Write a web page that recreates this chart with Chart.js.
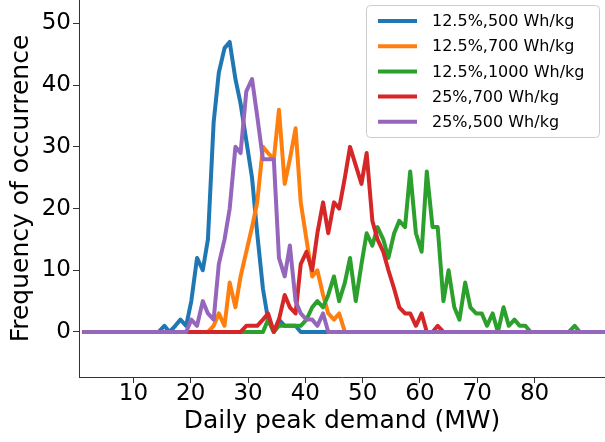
<!DOCTYPE html>
<html>
<head>
<meta charset="utf-8">
<script src="https://cdn.jsdelivr.net/npm/chart.js@4.4.0/dist/chart.umd.min.js"></script>
<style>
  html, body { margin: 0; padding: 0; background: #fff; }
  #wrap { width: 605px; height: 442px; position: relative; }
</style>
</head>
<body>
<div id="wrap"><canvas id="peakChart"></canvas></div>
<script>
// bin centres of the daily peak demand histogram (MW)
const demandBins = [
  1.05, 2.0, 3.0, 3.9, 4.9, 5.8, 6.8, 7.7, 8.7, 9.6,
  10.6, 11.6, 12.5, 13.5, 14.4, 15.4, 16.3, 17.3, 18.2, 19.2,
  20.1, 21.1, 22.1, 23.0, 24.0, 24.9, 25.9, 26.8, 27.8, 28.7,
  29.7, 30.7, 31.6, 32.6, 33.5, 34.5, 35.4, 36.4, 37.3, 38.3,
  39.2, 40.2, 41.2, 42.1, 43.1, 44.0, 45.0, 45.9, 46.9, 47.8,
  48.8, 49.8, 50.7, 51.7, 52.6, 53.6, 54.5, 55.5, 56.4, 57.4,
  58.3, 59.3, 60.3, 61.2, 62.2, 63.1, 64.1, 65.0, 66.0, 66.9,
  67.9, 68.8, 69.8, 70.8, 71.7, 72.7, 73.6, 74.6, 75.5, 76.5,
  77.4, 78.4, 79.3, 80.3, 81.3, 82.2, 83.2, 84.1, 85.1, 86.0,
  87.0, 87.9, 88.9, 89.9, 90.8, 91.8, 92.7
];

const labels = ['12.5%,500 Wh/kg', '12.5%,700 Wh/kg', '12.5%,1000 Wh/kg', '25%,700 Wh/kg', '25%,500 Wh/kg'];

const freq125_500 = [
  0,0,0,0,0,0,0,0,0,0,
  0,0,0,0,0,1,0,1,2,1,
  5,12,10,15,34,42,46,47,41,37,
  31,25,16,7,2,0,2,1,1,1,
  0,0,0,0,0,0,0,0,0,0,
  0,0,0,0,0,0,0,0,0,0,
  0,0,0,0,0,0,0,0,0,0,
  0,0,0,0,0,0,0,0,0,0,
  0,0,0,0,0,0,0,0,0,0,
  0,0,0,0,0,0,0
];
const freq125_700 = [
  0,0,0,0,0,0,0,0,0,0,
  0,0,0,0,0,0,0,0,0,0,
  0,0,0,0,1,3,1,8,4,9,
  13,17,21,30,29,28,36,24,28,33,
  21,15,9,10,6,3,2,3,0,0,
  0,0,0,0,0,0,0,0,0,0,
  0,0,0,0,0,0,0,0,0,0,
  0,0,0,0,0,0,0,0,0,0,
  0,0,0,0,0,0,0,0,0,0,
  0,0,0,0,0,0,0
];
const freq125_1000 = [
  0,0,0,0,0,0,0,0,0,0,
  0,0,0,0,0,0,0,0,0,0,
  0,0,0,0,0,0,0,0,0,0,
  0,0,0,0,2,0,1,1,1,1,
  1,2,4,5,4,6,9,5,8,12,
  5,11,16,14,17,15,12,16,18,17,
  26,16,13,26,17,17,5,10,4,2,
  8,4,3,3,1,3,0,4,1,2,
  1,1,0,0,0,0,0,0,0,0,
  1,0,0,0,0,0,0
];
const freq25_700 = [
  0,0,0,0,0,0,0,0,0,0,
  0,0,0,0,0,0,0,0,0,0,
  0,0,0,0,0,0,0,0,0,0,
  1,1,1,2,3,0,2,6,4,3,
  11,13,10,16,21,16,21,20,25,30,
  27,24,29,18,15,13,10,7,4,3,
  3,1,3,0,0,1,0,0,0,0,
  0,0,0,0,0,0,0,0,0,0,
  0,0,0,0,0,0,0,0,0,0,
  0,0,0,0,0,0,0
];
const freq25_500 = [
  0,0,0,0,0,0,0,0,0,0,
  0,0,0,0,0,0,0,0,0,0,
  2,1,5,3,2,11,15,20,30,29,
  39,41,35,28,28,28,12,9,14,5,
  3,2,2,1,3,0,0,0,0,0,
  0,0,0,0,0,0,0,0,0,0,
  0,0,0,0,0,0,0,0,0,0,
  0,0,0,0,0,0,0,0,0,0,
  0,0,0,0,0,0,0,0,0,0,
  0,0,0,0,0,0,0
];

const xTicks = [10, 20, 30, 40, 50, 60, 70, 80];
const yTicks = [0, 10, 20, 30, 40, 50];

const colors = ['#1f77b4', '#ff7f0e', '#2ca02c', '#d62728', '#9467bd'];
const series = [freq125_500, freq125_700, freq125_1000, freq25_700, freq25_500];

const font = 'DejaVu Sans';

// matplotlib style legend box in the upper right
const legendBox = {
  id: 'legendBox',
  afterDraw(chart) {
    const ctx = chart.ctx;
    ctx.save();
    ctx.fillStyle = 'rgba(255,255,255,0.8)';
    ctx.strokeStyle = '#cccccc';
    ctx.lineWidth = 1;
    ctx.beginPath();
    ctx.roundRect(366.5, 5.5, 233, 132, 4);
    ctx.fill();
    ctx.stroke();
    ctx.font = '16px "' + font + '"';
    ctx.textBaseline = 'middle';
    chart.data.datasets.forEach((ds, i) => {
      const y = 21 + i * 25.2;
      ctx.strokeStyle = ds.borderColor;
      ctx.lineWidth = 4;
      ctx.beginPath();
      ctx.moveTo(378, y);
      ctx.lineTo(417, y);
      ctx.stroke();
      ctx.fillStyle = '#000';
      ctx.fillText(ds.label, 432, y + 1);
    });
    ctx.restore();
  }
};

const ctx = document.getElementById('peakChart').getContext('2d');
new Chart(ctx, {
  type: 'line',
  data: {
    datasets: series.map((vals, i) => ({
      label: labels[i],
      data: vals.map((v, j) => ({ x: demandBins[j], y: v })),
      borderColor: colors[i],
      backgroundColor: colors[i],
      borderWidth: 4,
      pointRadius: 0,
      tension: 0,
      borderJoinStyle: 'round',
      fill: false,
      order: series.length - i
    }))
  },
  options: {
    responsive: true,
    maintainAspectRatio: false,
    devicePixelRatio: 1,
    animation: false,
    layout: { padding: 0 },
    plugins: {
      legend: { display: false },
      tooltip: { enabled: false }
    },
    scales: {
      x: {
        type: 'linear',
        min: 0.5,
        max: 92.3,
        afterBuildTicks: s => { s.ticks = xTicks.map(v => ({ value: v })); },
        afterFit: s => { s.height = 65; s.paddingLeft = 0; s.paddingRight = 0; },
        grid: { drawOnChartArea: false, drawTicks: true, tickLength: 6, tickColor: '#333', tickWidth: 1 },
        border: { display: true, color: '#333', width: 1 },
        ticks: { color: '#000', font: { family: font, size: 23, lineHeight: 1 }, padding: 0, maxRotation: 0, autoSkip: false },
        title: { display: true, text: 'Daily peak demand (MW)', color: '#000', font: { family: font, size: 25 }, padding: { top: 5, bottom: 5.3 } }
      },
      y: {
        type: 'linear',
        min: -7.3,
        max: 53.8,
        afterBuildTicks: s => { s.ticks = yTicks.map(v => ({ value: v })); },
        afterFit: s => { s.width = 79; s.paddingTop = 0; s.paddingBottom = 0; },
        grid: { drawOnChartArea: false, drawTicks: true, tickLength: 6, tickColor: '#333', tickWidth: 1 },
        border: { display: true, color: '#333', width: 1 },
        ticks: { color: '#000', font: { family: font, size: 23 }, padding: 2 },
        title: { display: true, text: 'Frequency of occurrence', color: '#000', font: { family: font, size: 25 }, padding: { top: 6.7, bottom: 0 } }
      }
    }
  },
  plugins: [legendBox]
});
</script>
</body>
</html>
